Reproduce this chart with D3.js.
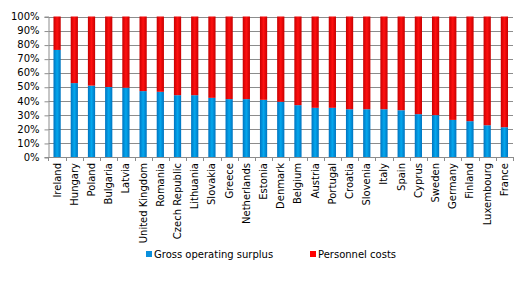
<!DOCTYPE html>
<html><head><meta charset="utf-8">
<script src="https://cdn.jsdelivr.net/npm/d3@7"></script>
<style>body{margin:0;background:#fff}svg{display:block}text{font-family:"DejaVu Sans",Verdana,sans-serif}</style>
</head><body><svg id="c" width="526" height="281"></svg>
<script>
const countries = ["Ireland","Hungary","Poland","Bulgaria","Latvia","United Kingdom","Romania","Czech Republic","Lithuania","Slovakia","Greece","Netherlands","Estonia","Denmark","Belgium","Austria","Portugal","Croatia","Slovenia","Italy","Spain","Cyprus","Sweden","Germany","Finland","Luxembourg","France"];
const grossOperatingSurplus = [76.2,52.6,50.8,49.8,49.3,46.9,46.4,44.0,44.0,42.1,41.2,41.2,40.7,39.3,36.9,35.0,35.0,34.0,34.0,34.0,33.3,30.5,29.8,26.4,25.5,22.6,21.2];
const personnelCosts = grossOperatingSurplus.map(v => 100 - v);
const yTicks = [0,10,20,30,40,50,60,70,80,90,100];
const seriesNames = ["Gross operating surplus","Personnel costs"];

const svg = d3.select("#c");
const m = {l:48.5, r:513, t:16.5, b:157};
const x = d3.scaleBand().domain(countries).range([m.l, m.r]).paddingInner(0.58).paddingOuter(0.29);
const y = d3.scaleLinear().domain([0,100]).range([m.b, m.t]);

const defs = svg.append("defs");
function grad(id, edge, mid){
  const g = defs.append("linearGradient").attr("id", id).attr("x1","0").attr("x2","1").attr("y1","0").attr("y2","0");
  g.append("stop").attr("offset","0%").attr("stop-color", edge);
  g.append("stop").attr("offset","50%").attr("stop-color", mid);
  g.append("stop").attr("offset","100%").attr("stop-color", edge);
}
grad("gb","#0074c0","#04a8ee");
grad("gr","#c80000","#ff1010");

// gridlines
svg.append("g").selectAll("line").data(yTicks.filter(d=>d>0)).join("line")
  .attr("x1", m.l).attr("x2", m.r).attr("y1", d=>Math.round(y(d))+0.5).attr("y2", d=>Math.round(y(d))+0.5)
  .attr("stroke","#8c8c8c").attr("stroke-width",1);

// y axis
const ya = svg.append("g").attr("transform",`translate(${m.l},0)`)
  .call(d3.axisLeft(y).tickValues(yTicks).tickFormat(d=>d+"%").tickSize(4).tickPadding(5));
ya.selectAll("line").attr("stroke","#8c8c8c").attr("transform","translate(0,0.5)");
ya.select(".domain").attr("stroke","#8c8c8c");
ya.selectAll("text").attr("font-size","10px").attr("fill","#000").attr("font-family","DejaVu Sans");

// bars
const stack = countries.map((c,i)=>({c, g:grossOperatingSurplus[i], p:personnelCosts[i]}));
svg.append("g").selectAll("rect").data(stack).join("rect")
  .attr("x", d=>x(d.c)).attr("width", x.bandwidth())
  .attr("y", d=>y(d.g)).attr("height", d=>y(0)-y(d.g)).attr("fill","url(#gb)");
svg.append("g").selectAll("rect").data(stack).join("rect")
  .attr("x", d=>x(d.c)).attr("width", x.bandwidth())
  .attr("y", d=>y(d.g+d.p)).attr("height", d=>y(d.g)-y(d.g+d.p)).attr("fill","url(#gr)");

// x axis
const xb = svg.append("g");
xb.append("line").attr("x1",m.l).attr("x2",m.r).attr("y1",Math.round(y(0))+0.5).attr("y2",Math.round(y(0))+0.5).attr("stroke","#8c8c8c");
const step = x.step();
const bounds = countries.map((c,i)=> x(c) - (step - x.bandwidth())/2).concat([m.r]);
xb.selectAll("line.t").data(bounds).join("line").attr("class","t")
  .attr("x1", d=>Math.round(d)+0.5).attr("x2", d=>Math.round(d)+0.5)
  .attr("y1", Math.round(y(0))).attr("y2", Math.round(y(0))+4).attr("stroke","#8c8c8c");
xb.selectAll("text").data(countries).join("text")
  .attr("transform", d=>`translate(${x(d)+x.bandwidth()/2+3.5},${y(0)+6}) rotate(-90)`)
  .attr("text-anchor","end").attr("font-size","10px").attr("fill","#000").text(d=>d);

// legend
const leg = svg.append("g");
const items = [{n:seriesNames[0], c:"#0a8fdc", x:146},{n:seriesNames[1], c:"#ff0000", x:310}];
items.forEach(it=>{
  leg.append("rect").attr("x",it.x).attr("y",251).attr("width",6).attr("height",6).attr("fill",it.c);
  leg.append("text").attr("x",it.x+8).attr("y",258).attr("font-size","10px").attr("fill","#000").text(it.n);
});
</script></body></html>
